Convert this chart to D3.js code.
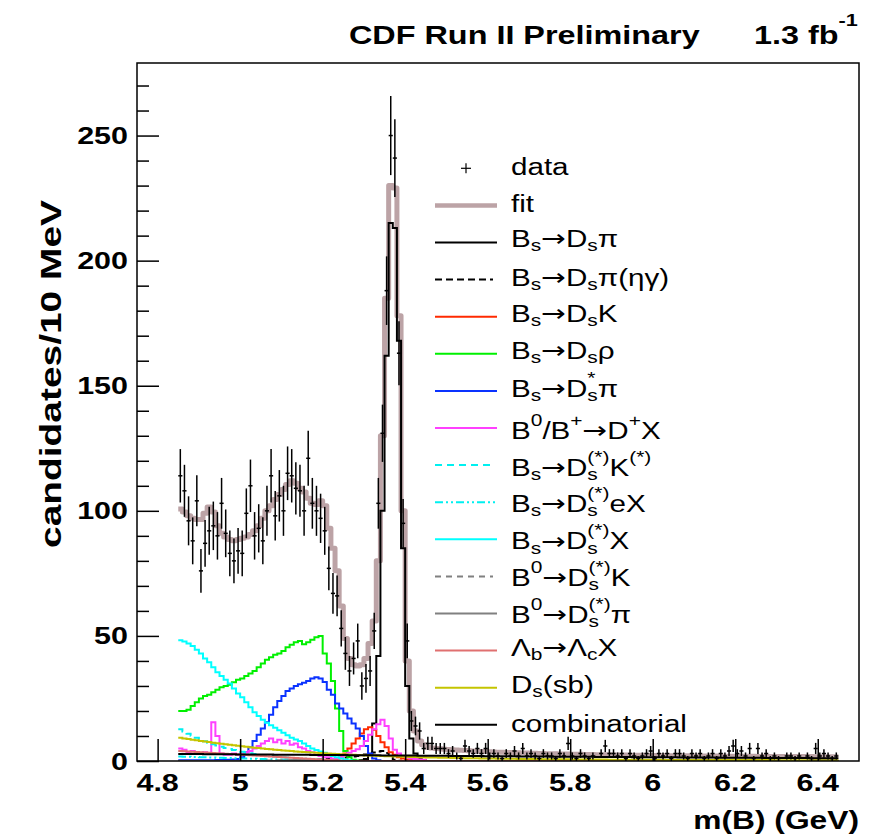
<!DOCTYPE html>
<html><head><meta charset="utf-8">
<script src="https://cdn.jsdelivr.net/npm/d3@7"></script>
<style>body{margin:0;background:#fff}text{font-family:"Liberation Sans",Arial,Helvetica,sans-serif}</style>
</head><body>
<svg id="c" width="881" height="835"></svg>
<script>
// ---------------- data ----------------
const massLow = 4.85, binWidth = 0.01, nBins = 160;
const xDomain = [4.75, 6.5];
const yDomain = [0, 279];
const yTicks = [0, 50, 100, 150, 200, 250];
const xTicks = [4.8, 5.0, 5.2, 5.4, 5.6, 5.8, 6.0, 6.2, 6.4];
const xTickLabels = ["4.8", "5", "5.2", "5.4", "5.6", "5.8", "6", "6.2", "6.4"];

const dataCounts = [
114,108,96,88,104,76,87,92,94,90,
103,91,83,80,84,83,99,110,90,93,
88,100,114,98,106,100,115,114,109,108,
100,121,103,100,97,92,77,67,66,53,
43,36,41,48,30,33,36,52,103,131,
188,250,241,163,95,48,16,14,12,5,
7,7,5,5,5,3,4,2,1,6,
4,3,5,3,5,2,3,2,1,3,
2,4,2,5,2,3,2,1,3,2,
2,1,3,2,7,2,1,3,2,1,
2,0,3,6,3,3,2,3,1,3,
2,1,2,3,4,1,3,2,3,1,
3,3,2,1,3,2,3,1,2,3,
1,3,2,4,6,3,4,2,5,1,
5,2,3,1,2,1,0,2,2,1,
2,0,2,1,5,2,3,2,1,2];

const fitValues = [
100.7,99.5,98,97,96.5,96.5,99,101.5,99.5,94,
91,89.5,88.5,88,88.5,89,89.5,90.5,92,94,
97,100,102,104.5,106.5,108.5,110.5,112,111,109,
107.5,105,103,102.5,104,102,93,85,76,62,
49,41,38.5,38,38.5,41,47,56,80,130,
185,230,229,178,100,40,20,12,8,6.5,
5.5,5.2,5.0,4.9,4.7,4.6,4.5,4.4,4.3,4.2,
4.1,4.0,3.9,3.8,3.8,3.7,3.6,3.5,3.5,3.4,
3.4,3.3,3.3,3.2,3.2,3.1,3.1,3.0,3.0,2.9,
2.9,2.9,2.8,2.8,2.8,2.7,2.7,2.7,2.6,2.6,
2.6,2.5,2.5,2.5,2.5,2.4,2.4,2.4,2.4,2.3,
2.3,2.3,2.3,2.3,2.2,2.2,2.2,2.2,2.2,2.1,
2.1,2.1,2.1,2.1,2.1,2.0,2.0,2.0,2.0,2.0,
2.0,2.0,1.9,1.9,1.9,1.9,1.9,1.9,1.9,1.9,
1.8,1.8,1.8,1.8,1.8,1.8,1.8,1.8,1.8,1.8,
1.8,1.8,1.8,1.8,1.7,1.7,1.7,1.7,1.7,1.7];

// components: first bin index + values (bins outside are empty)
const dsPiStart = 44;
const dsPi = [0.3,0.8,2.5,15,42,100,162,215,213,168,85,30,9,3,1,0.3];
const dsPiRadStart = 30;
const dsPiRad = [0.2,0.3,0.4,0.5,0.6,0.7,0.8,0.9,1.0,1.2,1.4,1.6,1.8,2.0,2.3,2.6,3.0,3.4,3.8,4.0,3.2,1.5,0.5,0.1];
const dsKStart = 36;
const dsK = [0.3,0.4,0.5,1.5,3,5,7,9,11,12.7,13.5,12.5,10,7.5,5.5,3.5,2.5,1.5,1,0.6,0.4,0.3];
const dsRhoStart = 0;
const dsRho = [20,20,20.5,22,23.5,25,26,26.5,27.5,28.5,29.5,30,30.5,31.5,32.5,33,34,35,36,37.5,
39,40.5,41.5,42.5,43,44,45.5,46.5,47.5,48,46.7,47.5,48.5,49.5,50,43,39,32,21,12,4,1.5,0.5,0.2];
const dsStarPiStart = 0;
const dsStarPi = [0.3,0.3,0.3,0.3,0.3,0.3,0.3,0.3,0.3,0.4,0.4,0.4,0.5,0.6,0.8,1.5,3.5,5.5,8,10.5,
13,15.5,18.5,21.5,24,26,28,29,30,30.7,31.3,32,33,33.5,33,31.6,28.5,26.5,23,21,19,17,15,13,10,6,3,1,0.3];
const dPlusXStart = 0;
const dPlusX = [5,4.5,3.5,4,3,3,3.5,3,15.5,10,3,2.5,2.5,3,2.5,3,3.5,4,5,6,
7,8,9,7.5,8.5,7,8,6.5,7,5.5,5,4,3.5,2.5,2,1.5,1.5,1,1,1.5,
2.5,3.3,4,4.7,6,8,10.5,12.7,14.7,16.5,14,9,4.5,3,2,1.5,1,0.8,0.6,0.5];
const dsKStarStart = 0;
const dsKStar = [12.7,11.8,10.9,10.1,9.3,8.6,7.9,7.3,6.7,6.2,5.7,5.2,4.8,4.4,4.0,3.7,3.4,3.1,2.8,2.6,
2.4,2.2,2.0,1.8,1.6,1.5,1.4,1.2,1.1,1.0,0.9,0.8,0.7,0.6,0.5,0.5,0.4,0.3,0.2,0.1];
const dsEXStart = 0;
const dsEX = [1.8,1.7,1.7,1.6,1.6,1.5,1.5,1.4,1.4,1.3,1.3,1.2,1.2,1.1,1.1,1.0,1.0,0.9,0.9,0.8,
0.8,0.7,0.7,0.6,0.6,0.5,0.5,0.4,0.4,0.3,0.3,0.3,0.2,0.2,0.2,0.1,0.1];
const dsXStart = 0;
const dsX = [48.3,47.8,47,46,44.5,43,41,39.5,37.5,35.5,34,32.5,31,29,27,25.5,23.5,21.5,19.5,18,
16.5,15.3,14.3,13.3,12.3,11.3,10.3,9.3,8.6,8,7,6,5,4.4,3.8,3.3,2.7,2,1.5,1,0.6,0.3,0.1];
const b0DsKStart = 20;
const b0DsK = [0.1,0.2,0.2,0.3,0.3,0.3,0.3,0.2,0.2,0.1];
const b0DsPiStart = 25;
const b0DsPi = [0.1,0.2,0.3,0.4,0.5,0.5,0.4,0.3,0.2,0.1];
const lbStart = 0;
const lambdaB = [4.0,3.9,3.8,3.7,3.6,3.5,3.4,3.3,3.2,3.1,3.0,2.9,2.8,2.7,2.6,2.5,2.4,2.3,2.2,2.1,
2.0,1.9,1.8,1.7,1.6,1.5,1.4,1.3,1.2,1.1,1.0,0.9,0.8,0.7,0.6,0.5,0.4,0.3,0.2,0.1];
const dsSbStart = 0;
const dsSb = [
9.3,9.0,8.8,8.5,8.3,8.0,7.8,7.6,7.3,7.1,
6.9,6.7,6.5,6.3,6.1,5.9,5.7,5.5,5.3,5.2,
5.0,4.8,4.7,4.5,4.4,4.2,4.1,4.0,3.8,3.7,
3.6,3.5,3.4,3.3,3.2,3.1,3.0,2.9,2.8,2.7,
2.6,2.5,2.5,2.4,2.3,2.2,2.2,2.1,2.0,2.0,
1.9,1.9,1.8,1.8,1.7,1.7,1.6,1.6,1.5,1.5,
1.4,1.4,1.4,1.3,1.3,1.3,1.2,1.2,1.2,1.1,
1.1,1.1,1.1,1.0,1.0,1.0,1.0,0.9,0.9,0.9,
0.9,0.9,0.8,0.8,0.8,0.8,0.8,0.8,0.7,0.7,
0.7,0.7,0.7,0.7,0.7,0.6,0.6,0.6,0.6,0.6,
0.6,0.6,0.6,0.6,0.5,0.5,0.5,0.5,0.5,0.5,
0.5,0.5,0.5,0.5,0.5,0.5,0.5,0.5,0.4,0.4,
0.4,0.4,0.4,0.4,0.4,0.4,0.4,0.4,0.4,0.4,
0.4,0.4,0.4,0.4,0.4,0.4,0.4,0.4,0.4,0.4,
0.4,0.4,0.4,0.4,0.3,0.3,0.3,0.3,0.3,0.3,
0.3,0.3,0.3,0.3,0.3,0.3,0.3,0.3,0.3,0.3];
const combStart = 0;
const combinatorial = [
2.8,2.8,2.8,2.8,2.8,2.8,2.7,2.7,2.7,2.7,
2.7,2.7,2.7,2.7,2.6,2.6,2.6,2.6,2.6,2.6,
2.6,2.6,2.6,2.5,2.5,2.5,2.5,2.5,2.5,2.5,
2.5,2.5,2.4,2.4,2.4,2.4,2.4,2.4,2.4,2.4,
2.4,2.3,2.3,2.3,2.3,2.3,2.3,2.3,2.3,2.2,
2.2,2.2,2.2,2.2,2.2,2.2,2.2,2.2,2.1,2.1,
2.1,2.1,2.1,2.1,2.1,2.1,2.0,2.0,2.0,2.0,
2.0,2.0,2.0,2.0,1.9,1.9,1.9,1.9,1.9,1.9,
1.9,1.9,1.8,1.8,1.8,1.8,1.8,1.8,1.8,1.8,
1.7,1.7,1.7,1.7,1.7,1.7,1.7,1.7,1.7,1.7,
1.7,1.6,1.6,1.6,1.6,1.6,1.6,1.6,1.6,1.6,
1.5,1.5,1.5,1.5,1.5,1.5,1.5,1.5,1.5,1.5,
1.5,1.4,1.4,1.4,1.4,1.4,1.4,1.4,1.4,1.4,
1.4,1.3,1.3,1.3,1.3,1.3,1.3,1.3,1.3,1.3,
1.3,1.3,1.2,1.2,1.2,1.2,1.2,1.2,1.2,1.2,
1.2,1.2,1.2,1.1,1.1,1.1,1.1,1.1,1.1,1.1];

const legendLabels = ["data","fit","B_{s}→D_{s}π","B_{s}→D_{s}π(ηγ)","B_{s}→D_{s}K","B_{s}→D_{s}ρ",
"B_{s}→D_{s}^{*}π","B^{0}/B^{+}→D^{+}X","B_{s}→D_{s}^{(*)}K^{(*)}","B_{s}→D_{s}^{(*)}eX","B_{s}→D_{s}^{(*)}X",
"B^{0}→D_{s}^{(*)}K","B^{0}→D_{s}^{(*)}π","Λ_{b}→Λ_{c}X","D_{s}(sb)","combinatorial"];

// ---------------- drawing ----------------
const svg = d3.select("#c");
const x = d3.scaleLinear().domain(xDomain).range([137, 859]);
const y = d3.scaleLinear().domain(yDomain).range([761, 63]);
const SX = 1.27; // horizontal text stretch of the original picture

svg.append("defs").append("clipPath").attr("id","clip")
  .append("rect").attr("x",137).attr("y",63).attr("width",722).attr("height",698);
const plot = svg.append("g").attr("clip-path","url(#clip)");

function fullBins(start, vals){ return d3.range(nBins).map(i => (i>=start && i<start+vals.length) ? vals[i-start] : 0); }
const edge = i => massLow + i*binWidth;
const stepLine = d3.line().x(d=>x(d[0])).y(d=>y(d[1])).curve(d3.curveStepAfter);
function histPath(vals){
  const pts = vals.map((v,i)=>[edge(i), v]);
  pts.push([edge(vals.length), vals[vals.length-1]]);
  return stepLine(pts);
}

// fit
plot.append("path").attr("d", histPath(fitValues)).attr("fill","none")
  .attr("stroke","#bca3a6").attr("stroke-width",5).attr("stroke-linejoin","round");

const components = [
  {vals: fullBins(dsPiStart, dsPi), color:"#000", dash:null},
  {vals: fullBins(dsPiRadStart, dsPiRad), color:"#000", dash:"6,4"},
  {vals: fullBins(dsKStart, dsK), color:"#ff2a00", dash:null},
  {vals: fullBins(dsRhoStart, dsRho), color:"#00f000", dash:null},
  {vals: fullBins(dsStarPiStart, dsStarPi), color:"#0a32ff", dash:null},
  {vals: fullBins(dPlusXStart, dPlusX), color:"#ff40ff", dash:null},
  {vals: fullBins(dsKStarStart, dsKStar), color:"#00f0f0", dash:"7,5"},
  {vals: fullBins(dsEXStart, dsEX), color:"#00f0f0", dash:"8,3,2,3,2,3"},
  {vals: fullBins(dsXStart, dsX), color:"#00ffff", dash:null},
  {vals: fullBins(b0DsKStart, b0DsK), color:"#808080", dash:"6,5"},
  {vals: fullBins(b0DsPiStart, b0DsPi), color:"#808080", dash:null},
  {vals: fullBins(lbStart, lambdaB), color:"#e07070", dash:null},
  {vals: fullBins(dsSbStart, dsSb), color:"#c4c400", dash:null},
  {vals: fullBins(combStart, combinatorial), color:"#000", dash:null}
];
components.forEach(c=>{
  plot.append("path").attr("d", histPath(c.vals)).attr("fill","none")
    .attr("stroke", c.color).attr("stroke-width", 2).attr("stroke-dasharray", c.dash);
});

// data points
const dg = plot.append("g").attr("stroke","#000").attr("stroke-width",1.5);
dataCounts.forEach((n,i)=>{
  if(n<=0) return;
  const e = Math.sqrt(n);
  dg.append("line").attr("x1",x(edge(i))).attr("x2",x(edge(i+1))).attr("y1",y(n)).attr("y2",y(n));
  dg.append("line").attr("x1",x(edge(i)+binWidth/2)).attr("x2",x(edge(i)+binWidth/2)).attr("y1",y(n-e)).attr("y2",y(n+e));
});

// axes (ticks inward)
const yAxis = d3.axisRight(y).tickValues(yTicks).tickSize(22).tickFormat("");
const yg = svg.append("g").attr("transform","translate(137,0)").call(yAxis);
const yMinor = d3.axisRight(y).tickValues(d3.range(0,280,10).filter(v=>v%50)).tickSize(12).tickFormat("");
const ymg = svg.append("g").attr("transform","translate(137,0)").call(yMinor);
const xAxis = d3.axisTop(x).tickValues(xTicks).tickSize(22).tickFormat("");
const xg = svg.append("g").attr("transform","translate(0,761)").call(xAxis);
[yg,ymg,xg].forEach(g=>{ g.select(".domain").remove(); g.selectAll("line").attr("stroke","#000").attr("stroke-width",1.5); });

// frame
svg.append("rect").attr("x",137).attr("y",63).attr("width",722).attr("height",698)
  .attr("fill","none").attr("stroke","#000").attr("stroke-width",1.5);

// tick labels
yTicks.forEach(v=>{
  svg.append("text").attr("transform",`translate(128,${y(v)+8.5}) scale(${SX},1)`)
    .attr("text-anchor","end").attr("font-size",24).attr("font-weight","bold").text(v);
});
xTicks.forEach((v,i)=>{
  svg.append("text").attr("transform",`translate(${x(v)},791) scale(${SX},1)`)
    .attr("text-anchor","middle").attr("font-size",24).attr("font-weight","bold").text(xTickLabels[i]);
});
svg.append("text").attr("transform",`translate(859,829) scale(${SX},1)`)
  .attr("text-anchor","end").attr("font-size",25).attr("font-weight","bold").text("m(B) (GeV)");
svg.append("text").attr("transform",`translate(61,374) rotate(-90)`)
  .attr("text-anchor","middle").attr("font-size",30).attr("font-weight","bold")
  .attr("textLength",348).attr("lengthAdjust","spacingAndGlyphs").text("candidates/10 MeV");

// mini latex renderer
function parseLatex(s){
  const segs=[]; let i=0, buf="";
  const flush=()=>{ if(buf){segs.push({type:"n",t:buf}); buf="";} };
  while(i<s.length){
    if((s[i]==="_"||s[i]==="^") && s[i+1]==="{"){
      flush();
      const type = s[i]==="_"?"sub":"sup";
      const end = s.indexOf("}", i+2);
      const t = s.slice(i+2,end);
      const last = segs[segs.length-1];
      if(last && ((last.type==="sub"&&type==="sup")||(last.type==="sup"&&type==="sub"))){
        last.type="subsup"; if(type==="sub") last.sub=t; else last.sup=t;
      } else { const o={type,t}; if(type==="sub") o.sub=t; else o.sup=t; segs.push(o); }
      i=end+1;
    } else if(s[i]==="→"){ flush(); segs.push({type:"arrow",t:"→"}); i++; }
    else { buf+=s[i]; i++; }
  }
  flush(); return segs;
}
function drawLatex(g, s, opt){
  const fs=opt.fs, sfs=opt.sfs, subDy=opt.subDy, supDy=opt.supDy, weight=opt.weight||"normal";
  let cx=0;
  const put=(t,yy,size,fam)=>{ const el=g.append("text").attr("x",cx).attr("y",yy).attr("font-size",size).attr("font-weight",weight).text(t);
    if(fam) el.style("font-family",fam);
    return el.node().getComputedTextLength(); };
  parseLatex(s).forEach(sg=>{
    if(sg.type==="n"){ cx+=put(sg.t,0,fs); }
    else if(sg.type==="arrow"){ cx+=put(sg.t,-0.5,fs,"'DejaVu Sans'"); }
    else if(sg.type==="sub"){ cx+=put(sg.sub,subDy,sfs); }
    else if(sg.type==="sup"){ cx+=put(sg.sup,supDy,sfs); }
    else { const w1=put(sg.sub,subDy,sfs); const w2=put(sg.sup,supDy,sfs); cx+=Math.max(w1,w2); }
  });
}

// title
drawLatex(svg.append("g").attr("transform",`translate(349,43.5) scale(${SX},1)`), "CDF Run II Preliminary",
  {fs:25.5,sfs:17,subDy:4,supDy:-18,weight:"bold"});
drawLatex(svg.append("g").attr("transform",`translate(754,43.5) scale(${SX},1)`), "1.3 fb^{-1}",
  {fs:25.5,sfs:17,subDy:4,supDy:-18,weight:"bold"});

// legend
const legendStyles = [
  {kind:"marker"},
  {color:"#bca3a6", w:4.5},
  {color:"#000", w:2},
  {color:"#000", w:2, dash:"7,4", end:493},
  {color:"#ff2a00", w:2},
  {color:"#00f000", w:2},
  {color:"#0a32ff", w:2},
  {color:"#ff40ff", w:2},
  {color:"#00f0f0", w:2, dash:"7,5", end:493},
  {color:"#00f0f0", w:2, dash:"8,3,2,3,2,3"},
  {color:"#00ffff", w:2},
  {color:"#808080", w:2, dash:"6,5", end:493},
  {color:"#808080", w:2},
  {color:"#e07070", w:2},
  {color:"#c4c400", w:2},
  {color:"#000", w:2}
];
const legendTextDy = [6.7,6.3,4.3,6,5,5,5.7,10.7,10.7,9.7,10,9.3,9,5,5,7.4];
const leg = svg.append("g");
legendLabels.forEach((lab,i)=>{
  const ly = 168.3 + 37.1*i;
  const st = legendStyles[i];
  if(st.kind==="marker"){
    leg.append("line").attr("x1",461).attr("x2",471).attr("y1",ly).attr("y2",ly).attr("stroke","#000").attr("stroke-width",1.2);
    leg.append("line").attr("x1",466).attr("x2",466).attr("y1",ly-5).attr("y2",ly+5).attr("stroke","#000").attr("stroke-width",1.2);
  } else {
    leg.append("line").attr("x1",435).attr("x2",st.end||497).attr("y1",ly).attr("y2",ly)
      .attr("stroke",st.color).attr("stroke-width",st.w).attr("stroke-dasharray",st.dash||null);
  }
  drawLatex(leg.append("g").attr("transform",`translate(511,${ly+legendTextDy[i]}) scale(${SX},1)`), lab,
    {fs:23.3,sfs:16.5,subDy:4.5,supDy:-13});
});
</script>
</body></html>
